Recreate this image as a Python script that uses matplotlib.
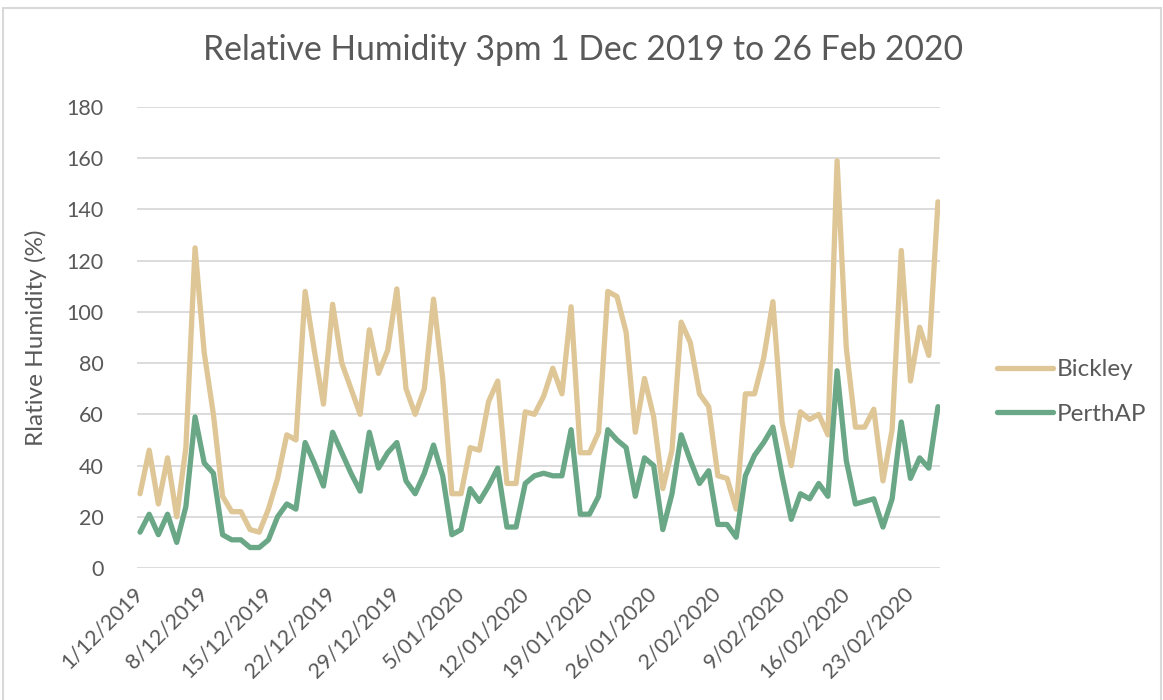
import matplotlib
matplotlib.use("Agg")
import matplotlib.pyplot as plt
from matplotlib.patches import Rectangle
import numpy as np
import pandas as pd

dates = pd.date_range("2019-12-01", "2020-02-26", freq="D")
bickley = [29, 46, 25, 43, 20, 47, 125, 84, 60, 28, 22, 22, 15, 14, 23, 35, 52, 50,
           108, 85, 64, 103, 80, 70, 60, 93, 76, 85, 109, 70, 60, 70, 105, 74, 29, 29,
           47, 46, 65, 73, 33, 33, 61, 60, 67, 78, 68, 102, 45, 45, 53, 108, 106, 92,
           53, 74, 59, 31, 46, 96, 88, 68, 63, 36, 35, 23, 68, 68, 82, 104, 57, 40,
           61, 58, 60, 52, 159, 86, 55, 55, 62, 34, 54, 124, 73, 94, 83, 143]
perthap = [14, 21, 13, 21, 10, 24, 59, 41, 37, 13, 11, 11, 8, 8, 11, 20, 25, 23,
           49, 41, 32, 53, 45, 37, 30, 53, 39, 45, 49, 34, 29, 37, 48, 36, 13, 15,
           31, 26, 32, 39, 16, 16, 33, 36, 37, 36, 36, 54, 21, 21, 28, 54, 50, 47,
           28, 43, 40, 15, 29, 52, 42, 33, 38, 17, 17, 12, 36, 44, 49, 55, 36, 19,
           29, 27, 33, 28, 77, 42, 25, 26, 27, 16, 27, 57, 35, 43, 39, 63]
labels = [f"{d.day}/{d.month:02d}/{d.year}" for d in dates]
title = "Relative Humidity 3pm 1 Dec 2019 to 26 Feb 2020"
ylabel = "Rlative Humidity (%)"

plt.rcParams['font.family'] = ['Lato', 'DejaVu Sans']
TXT = '#595959'
C_B = '#DFC697'
C_P = '#6AA786'

W, H = 1163, 700
fig = plt.figure(figsize=(W / 100, H / 100), dpi=100)
fig.patch.set_facecolor('white')
fig.add_artist(Rectangle((3 / W, -0.01), (1161 - 3) / W, (H - 8) / H + 0.01,
                         transform=fig.transFigure, fill=False,
                         edgecolor='#D9D9D9', linewidth=1.5))

ax = fig.add_axes([137 / W, (H - 568) / H, (940 - 137) / W, (568 - 107) / H])
x = np.arange(len(dates))
ax.plot(x, bickley, color=C_B, lw=3.8, label='Bickley', solid_joinstyle='round', solid_capstyle='round')
ax.plot(x, perthap, color=C_P, lw=3.8, label='PerthAP', solid_joinstyle='round', solid_capstyle='round')

ax.set_xlim(-0.33, len(dates) - 1 + 0.22)
ax.set_ylim(0, 180)
ax.set_yticks(np.arange(0, 181, 20))
ax.yaxis.grid(True, color='#D9D9D9', lw=1.3)
ax.set_axisbelow(True)
for s in ax.spines.values():
    s.set_visible(False)
ax.tick_params(axis='both', length=0, labelsize=15.5, labelcolor=TXT)
ax.tick_params(axis='y', pad=24)
tick_idx = list(range(0, len(dates), 7))
ax.set_xticks(tick_idx)
ax.set_xticklabels([labels[i] for i in tick_idx], rotation=45, ha='right',
                   va='center', rotation_mode='anchor')
ax.tick_params(axis='x', pad=16)

ax.set_ylabel(ylabel, fontsize=17.5, color=TXT, labelpad=14)
fig.text(583 / W, 1 - 50 / H, title, ha='center', va='center', fontsize=24.2, color=TXT)

leg = fig.legend(loc='upper left', bbox_to_anchor=(997 / W, 1 - 359 / H), frameon=False,
                 fontsize=17.5, handlelength=2.3, handletextpad=0.17, labelspacing=0.98,
                 borderpad=0, borderaxespad=0, labelcolor=TXT)

fig.savefig('out.png', dpi=100, facecolor='white')
